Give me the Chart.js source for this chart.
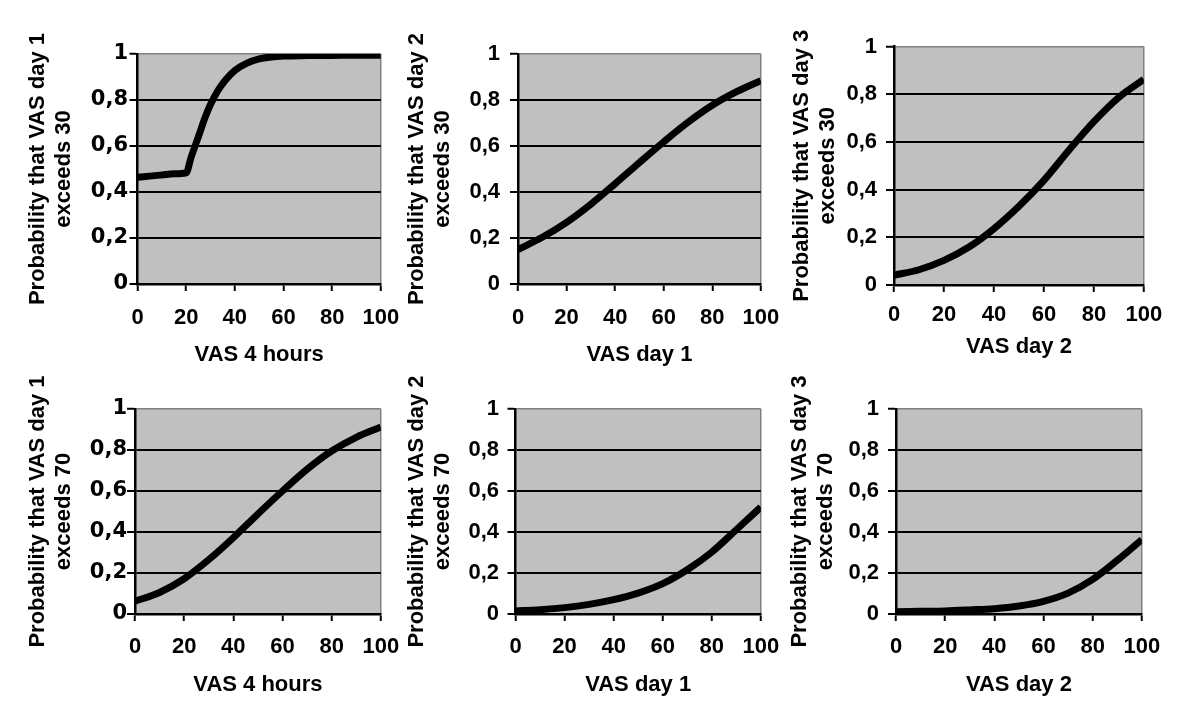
<!DOCTYPE html>
<html>
<head>
<meta charset="utf-8">
<script src="https://cdn.jsdelivr.net/npm/chart.js@4.4.1/dist/chart.umd.min.js"></script>
<style>
  html, body { margin: 0; padding: 0; background: #ffffff; width: 1200px; height: 726px; overflow: hidden; }
  body { position: relative; }
  .panel { position: absolute; }
  .panel canvas { display: block; }
</style>
</head>
<body>
<div id="stage"></div>
<script>
// ---------------- DATA ----------------
const xTickLabels = ['0', '20', '40', '60', '80', '100'];
const yTickLabels = ['0', '0,2', '0,4', '0,6', '0,8', '1'];

const vasSteps = [0, 10, 20, 30, 40, 50, 60, 70, 80, 90, 100];

// Panel 1: VAS 4 hours -> P(VAS day 1 > 30)
const p1X = [0, 5, 10, 15, 20, 22, 25, 28, 30, 33, 36, 40, 45, 50, 55, 60, 70, 80, 90, 100];
const p1Y = [0.464, 0.469, 0.474, 0.479, 0.483, 0.55, 0.64, 0.73, 0.78, 0.84, 0.885, 0.928, 0.96, 0.979, 0.987, 0.991, 0.993, 0.994, 0.995, 0.995];
// Panel 2: VAS day 1 -> P(VAS day 2 > 30)
const p2Y = [0.15, 0.203, 0.268, 0.347, 0.436, 0.528, 0.618, 0.703, 0.777, 0.836, 0.884];
// Panel 3: VAS day 2 -> P(VAS day 3 > 30)
const p3Y = [0.041, 0.064, 0.103, 0.159, 0.236, 0.33, 0.439, 0.565, 0.685, 0.787, 0.862];
// Panel 4: VAS 4 hours -> P(VAS day 1 > 70)
const p4Y = [0.062, 0.105, 0.172, 0.265, 0.372, 0.488, 0.6, 0.706, 0.795, 0.862, 0.912];
// Panel 5: VAS day 1 -> P(VAS day 2 > 70)
const p5Y = [0.015, 0.021, 0.031, 0.047, 0.07, 0.102, 0.148, 0.216, 0.302, 0.411, 0.522];
// Panel 6: VAS day 2 -> P(VAS day 3 > 70)
const p6Y = [0.011, 0.013, 0.015, 0.02, 0.026, 0.039, 0.062, 0.102, 0.169, 0.262, 0.363];

const xTitles = ['VAS 4 hours', 'VAS day 1', 'VAS day 2', 'VAS 4 hours', 'VAS day 1', 'VAS day 2'];
const yTitles = [
  ['Probability that VAS day 1', 'exceeds 30'],
  ['Probability that VAS day 2', 'exceeds 30'],
  ['Probability that VAS day 3', 'exceeds 30'],
  ['Probability that VAS day 1', 'exceeds 70'],
  ['Probability that VAS day 2', 'exceeds 70'],
  ['Probability that VAS day 3', 'exceeds 70']
];

const seriesX = [p1X, vasSteps, vasSteps, vasSteps, vasSteps, vasSteps];
const seriesY = [p1Y, p2Y, p3Y, p4Y, p5Y, p6Y];

// ---------------- LAYOUT / STYLE ----------------
const FONT = '"Liberation Sans", Arial, sans-serif';
const WIDE_FONT = '"DejaVu Sans", sans-serif';

// plot-area rectangle and text anchors for each panel (page pixels)
const layout = [
  { L: 137.5, T: 54,   R: 387,  B: 284, yT1: 38,  yLabR: 128, xTickC: 318, xTitleC: 355, yFont: WIDE_FONT, yFontSize: 21 },
  { L: 518,   T: 54,   R: 767,  B: 284, yT1: 417, yLabR: 500, xTickC: 318, xTitleC: 355, yFont: FONT, yFontSize: 22 },
  { L: 894,   T: 46.5, R: 1146, B: 285, yT1: 802, yLabR: 877, xTickC: 315, xTitleC: 347, yFont: FONT, yFontSize: 22 },
  { L: 135,   T: 409,  R: 386,  B: 614, yT1: 38,  yLabR: 127, xTickC: 647, xTitleC: 685, yFont: WIDE_FONT, yFontSize: 21 },
  { L: 515.5, T: 409,  R: 766,  B: 614, yT1: 417, yLabR: 499, xTickC: 647, xTitleC: 685, yFont: FONT, yFontSize: 22 },
  { L: 896,   T: 409,  R: 1147, B: 614, yT1: 800, yLabR: 879, xTickC: 647, xTitleC: 685, yFont: FONT, yFontSize: 22 }
];

const TITLE_SIZE = 22, TITLE_LH = 1.2;
const TICK_SIZE = 22, TICK_LH = 1.2;
const Y_TICK_LEN = 8, X_TICK_LEN = 7;
const PLOT_BG = '#c0c0c0';
const EDGE_GRAY = '#808080';

const plotBackground = {
  id: 'plotBackground',
  beforeDraw(chart) {
    const a = chart.chartArea;
    const ctx = chart.ctx;
    ctx.save();
    ctx.fillStyle = PLOT_BG;
    ctx.fillRect(a.left, a.top, a.right - a.left, a.bottom - a.top);
    ctx.restore();
  }
};

const stage = document.getElementById('stage');

layout.forEach((g, i) => {
  const lhT = TITLE_SIZE * TITLE_LH;
  const cx = Math.floor(g.yT1 - lhT / 2);
  const titlePadTop = (g.yT1 - lhT / 2) - cx;
  const cy = Math.floor(g.T) - 42;
  const right = Math.ceil(g.R) + 26;
  const bottom = Math.ceil(g.xTitleC + lhT / 2) + 4;
  const cw = right - cx, ch = bottom - cy;
  const padBottom = bottom - (g.xTitleC + lhT / 2);

  const div = document.createElement('div');
  div.className = 'panel';
  div.style.left = cx + 'px';
  div.style.top = cy + 'px';
  div.style.width = cw + 'px';
  div.style.height = ch + 'px';
  const canvas = document.createElement('canvas');
  canvas.width = cw; canvas.height = ch;
  canvas.style.width = cw + 'px'; canvas.style.height = ch + 'px';
  div.appendChild(canvas);
  stage.appendChild(div);

  const xs = seriesX[i], ys = seriesY[i];
  const pts = xs.map((x, k) => ({ x: x, y: ys[k] }));

  new Chart(canvas, {
    type: 'line',
    data: {
      datasets: [{
        data: pts,
        borderColor: '#000000',
        borderWidth: 7,
        pointRadius: 0,
        pointHoverRadius: 0,
        fill: false,
        cubicInterpolationMode: 'monotone',
        borderCapStyle: 'butt',
        borderJoinStyle: 'round'
      }]
    },
    options: {
      responsive: false,
      animation: false,
      devicePixelRatio: 1,
      events: [],
      layout: { padding: { left: 0, top: g.T - cy, right: right - g.R, bottom: padBottom } },
      plugins: { legend: { display: false }, tooltip: { enabled: false }, title: { display: false } },
      scales: {
        x: {
          type: 'linear',
          min: 0, max: 100,
          afterFit(s) { s.height = (g.xTitleC + lhT / 2) - g.B; },
          ticks: {
            stepSize: 20,
            autoSkip: false,
            maxRotation: 0,
            padding: g.xTickC - g.B - X_TICK_LEN - (TICK_SIZE * TICK_LH) / 2,
            color: '#000000',
            font: { family: FONT, size: TICK_SIZE, weight: 'bold', lineHeight: TICK_LH },
            callback: (v, idx) => xTickLabels[idx]
          },
          grid: {
            drawOnChartArea: true,
            color: (c) => (c.tick && c.tick.value === 100) ? EDGE_GRAY : 'rgba(0,0,0,0)',
            lineWidth: 1.5,
            drawTicks: true,
            tickLength: X_TICK_LEN,
            tickColor: '#000000',
            tickWidth: 2
          },
          border: { display: true, color: '#000000', width: 2.5 },
          title: {
            display: true,
            text: xTitles[i],
            color: '#000000',
            padding: 0,
            font: { family: FONT, size: TITLE_SIZE, weight: 'bold', lineHeight: TITLE_LH }
          }
        },
        y: {
          type: 'linear',
          min: 0, max: 1,
          afterFit(s) { s.width = g.L - cx; },
          ticks: {
            stepSize: 0.2,
            autoSkip: false,
            padding: g.L - Y_TICK_LEN - g.yLabR,
            color: '#000000',
            font: { family: g.yFont, size: g.yFontSize, weight: 'bold', lineHeight: TICK_LH },
            callback: (v, idx) => yTickLabels[idx]
          },
          grid: {
            drawOnChartArea: true,
            color: (c) => (c.tick && c.tick.value >= 0.999) ? EDGE_GRAY : '#000000',
            lineWidth: (c) => (c.tick && c.tick.value >= 0.999) ? 1.5 : 2,
            drawTicks: true,
            tickLength: Y_TICK_LEN,
            tickColor: '#000000',
            tickWidth: 2
          },
          border: { display: true, color: '#000000', width: 2.5 },
          title: {
            display: true,
            text: yTitles[i],
            color: '#000000',
            padding: { top: titlePadTop, bottom: 0 },
            font: { family: FONT, size: TITLE_SIZE, weight: 'bold', lineHeight: TITLE_LH }
          }
        }
      }
    },
    plugins: [plotBackground]
  });
});
</script>
</body>
</html>
